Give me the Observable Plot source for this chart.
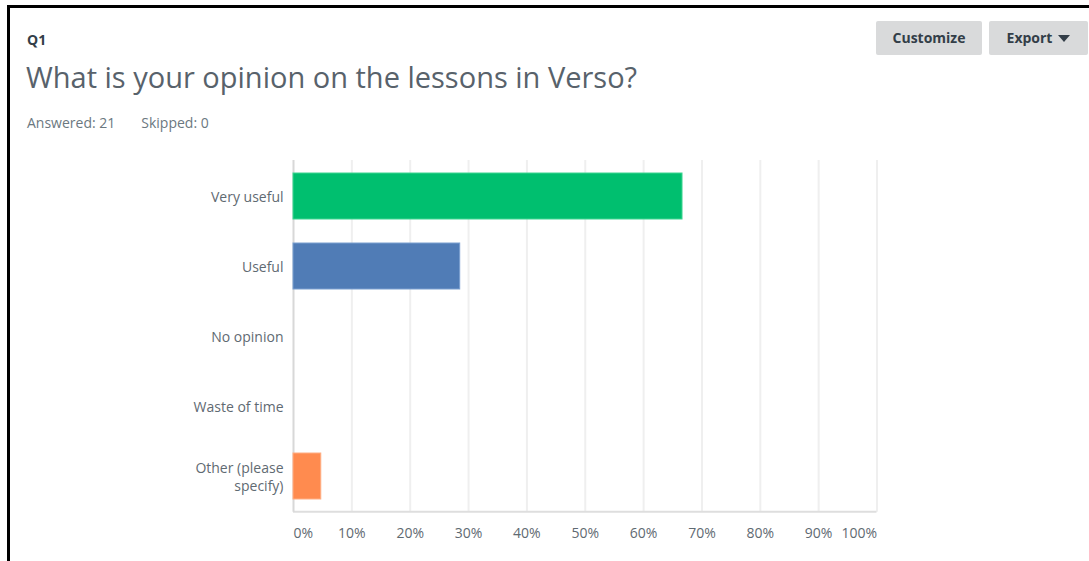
<!DOCTYPE html>
<html>
<head>
<meta charset="utf-8">
<script src="https://cdn.jsdelivr.net/npm/d3@7"></script>
<script src="https://cdn.jsdelivr.net/npm/@observablehq/plot@0.6"></script>
<style>
  html, body { margin: 0; padding: 0; background: #fff; width: 1089px; height: 561px; overflow: hidden; font-family: "Open Sans", sans-serif; }
  #frame { position: absolute; left: 7px; top: 5px; width: 1100px; height: 600px; border-left: 3px solid #000; border-top: 3px solid #000; box-sizing: border-box; }
  #q { position: absolute; left: 27px; top: 30px; font-size: 14px; font-weight: 700; color: #333e48; }
  #title { position: absolute; left: 26px; top: 57px; font-size: 29px; font-weight: 400; color: #58626b; white-space: nowrap; }
  #stats { position: absolute; left: 27px; top: 113px; font-size: 14px; color: #6b787f; white-space: nowrap; }
  #stats span { margin-right: 26px; }
  .btn { position: absolute; top: 21px; height: 34px; background: #d9dadb; border-radius: 2px; font-size: 14px; font-weight: 700; color: #333e48; line-height: 34px; text-align: center; box-sizing: border-box; }
  #customize { left: 876px; width: 106px; }
  #export { left: 989px; width: 99px; }
  .tri { display: inline-block; width: 0; height: 0; border-left: 6px solid transparent; border-right: 6px solid transparent; border-top: 7px solid #333e48; margin-left: 6px; vertical-align: 1px; }
  #chart { position: absolute; left: 0; top: 140px; }
</style>
</head>
<body>
<div id="frame"></div>
<div id="q">Q1</div>
<div id="title">What is your opinion on the lessons in Verso?</div>
<div id="stats"><span>Answered: 21</span><span>Skipped: 0</span></div>
<div class="btn" id="customize">Customize</div>
<div class="btn" id="export">Export<span class="tri"></span></div>
<div id="chart"></div>
<script>
const categories = ["Very useful", "Useful", "No opinion", "Waste of time", "Other (please specify)"];
const percents = [66.67, 28.57, 0, 0, 4.76];
const colors = ["#00bf6f", "#507cb6", "#6bc8cd", "#f9be00", "#ff8b4f"];
const strokes = ["#3fd592", "#7a9fd0", "#8fd8dc", "#fbd24d", "#ffae84"];
const tickLabels = { "Other (please specify)": "Other (please\nspecify)" };
const xTicks = [0, 10, 20, 30, 40, 50, 60, 70, 80, 90, 100];

const data = categories.map((c, i) => ({ category: c, value: percents[i], color: colors[i], stroke: strokes[i] }));

const W = 1089, H = 421, mL = 293, mR = 212.5, mT = 20, mB = 49.3;
const halfStep = (H - mT - mB) / categories.length / 2;

const chart = Plot.plot({
  width: W,
  height: H,
  marginLeft: mL,
  marginRight: mR,
  marginTop: mT,
  marginBottom: mB,
  style: { fontFamily: "Open Sans, sans-serif", fontSize: "14px", color: "#5f6a72", background: "transparent" },
  x: { domain: [0, 100], axis: null, label: null },
  y: { domain: categories, padding: 0, axis: null, label: null },
  marks: [
    Plot.gridX(xTicks.slice(1), { stroke: "#efefef", strokeOpacity: 1, strokeWidth: 2 }),
    Plot.ruleY([categories[categories.length - 1]], { x1: 0, x2: 100, dy: halfStep, stroke: "#dedede", strokeWidth: 2 }),
    Plot.ruleX([0], { stroke: "#d8d8d8", strokeWidth: 2 }),
    Plot.barX(data, {
      x: "value", y: "category", fill: d => d.color, stroke: d => d.stroke, strokeWidth: 1,
      insetTop: 12, insetBottom: 12, filter: d => d.value > 0
    }),
    Plot.axisY({ tickSize: 0, tickPadding: 10, label: null, tickFormat: d => tickLabels[d] ?? d, lineHeight: 1.3, fill: "#5f6a72" }),
    Plot.axisX(xTicks.slice(1, -1), { tickSize: 0, tickPadding: 16, label: null, tickFormat: d => d + "%", fill: "#5f6a72" }),
    Plot.axisX([0], { tickSize: 0, tickPadding: 16, label: null, tickFormat: d => d + "%", textAnchor: "start", fill: "#5f6a72" }),
    Plot.axisX([100], { tickSize: 0, tickPadding: 16, label: null, tickFormat: d => d + "%", textAnchor: "end", fill: "#5f6a72" })
  ]
});
document.getElementById("chart").appendChild(chart);
</script>
</body>
</html>
